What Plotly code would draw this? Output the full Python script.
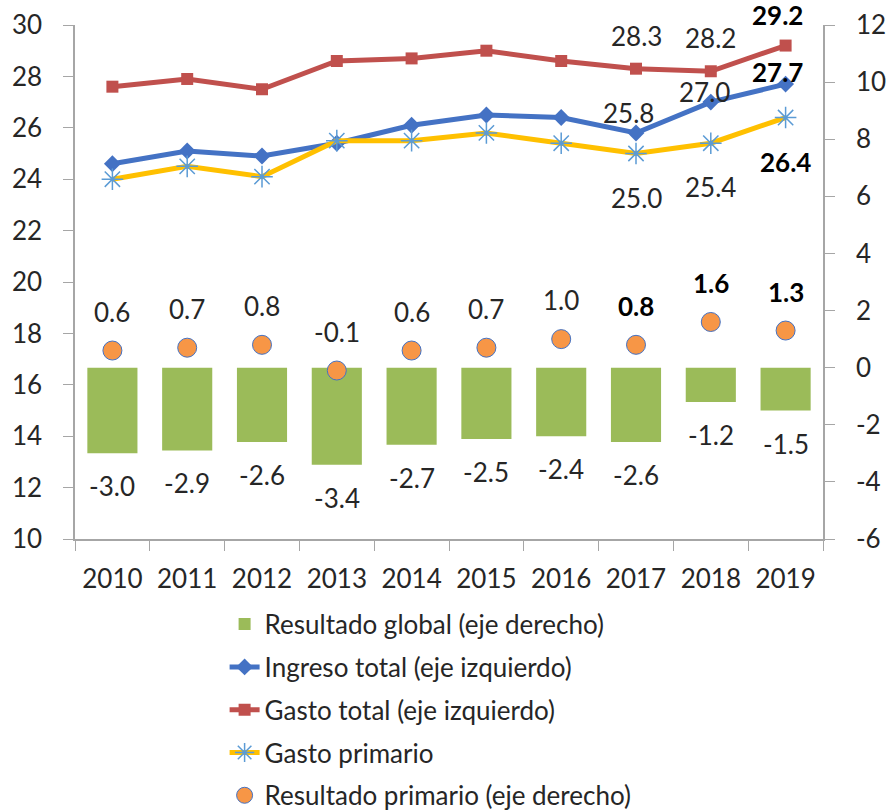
import plotly.graph_objects as go

years = ["2010", "2011", "2012", "2013", "2014", "2015", "2016", "2017", "2018", "2019"]
ingreso_total = [24.6, 25.1, 24.9, 25.4, 26.1, 26.5, 26.4, 25.8, 27.0, 27.7]
gasto_total = [27.6, 27.9, 27.5, 28.6, 28.7, 29.0, 28.6, 28.3, 28.2, 29.2]
gasto_primario = [24.0, 24.5, 24.1, 25.5, 25.5, 25.8, 25.4, 25.0, 25.4, 26.4]
resultado_global = [-3.0, -2.9, -2.6, -3.4, -2.7, -2.5, -2.4, -2.6, -1.2, -1.5]
resultado_primario = [0.6, 0.7, 0.8, -0.1, 0.6, 0.7, 1.0, 0.8, 1.6, 1.3]
right_ticks = [-6, -4, -2, 0, 2, 4, 6, 8, 10, 12]
right_tick_text = ["-6", "-4", "-2", "0", "2", "4", "6", "8", "10", "12"]

FONT = "Lato"
TXT = "#262626"
AX = "#A6A6A6"

fig = go.Figure()
fig.add_trace(go.Bar(x=years, y=resultado_global, yaxis="y2", name="Resultado global (eje derecho)",
                     marker=dict(color="#9BBB59", line=dict(width=0)), width=0.67, legendgroup="a"))
fig.add_trace(go.Scatter(x=years, y=ingreso_total, name="Ingreso total (eje izquierdo)", mode="lines+markers",
                         line=dict(color="#4472C4", width=5), marker=dict(symbol="diamond", size=13, color="#4472C4"),
                         legendgroup="b"))
fig.add_trace(go.Scatter(x=years, y=gasto_total, name="Gasto total (eje izquierdo)", mode="lines+markers",
                         line=dict(color="#C0504D", width=5), marker=dict(symbol="square", size=12, color="#C0504D"),
                         legendgroup="c"))
fig.add_trace(go.Scatter(x=years, y=gasto_primario, name="Gasto primario", mode="lines+markers",
                         line=dict(color="#FFC000", width=5),
                         marker=dict(symbol="asterisk-open", size=18, color="#5B9BD5", line=dict(color="#5B9BD5", width=1.5)),
                         legendgroup="d"))
fig.add_trace(go.Scatter(x=years, y=resultado_primario, yaxis="y2", name="Resultado primario (eje derecho)", mode="markers",
                         marker=dict(symbol="circle", size=19, color="#F79646", line=dict(color="#4472C4", width=1)),
                         legendgroup="e"))

ann = []
def lab(i, y, yref, text, yshift, xshift=0, bold=False):
    # category index i on the x axis
    ann.append(dict(x=i, y=y, xref="x", yref=yref, text=("<b>%s</b>" % text) if bold else text,
                    showarrow=False, yshift=yshift, xshift=xshift, xanchor="center", yanchor="middle",
                    font=dict(family=FONT, size=26, color="#000000" if bold else TXT)))

for i in range(len(years)):
    lab(i, resultado_primario[i], "y2", "%.1f" % resultado_primario[i], 39, bold=(i >= 7))
    lab(i, resultado_global[i], "y2", "%.1f" % resultado_global[i], -33)
for i in (7, 8, 9):
    lab(i, gasto_total[i], "y", "%.1f" % gasto_total[i], 33 if i < 9 else 31, xshift=0 if i < 9 else -8, bold=(i == 9))
    lab(i, gasto_primario[i], "y", "%.1f" % gasto_primario[i], -44, bold=(i == 9))
lab(7, ingreso_total[7], "y", "%.1f" % ingreso_total[7], 20, xshift=-8)
lab(8, ingreso_total[8], "y", "%.1f" % ingreso_total[8], 10, xshift=-6)
lab(9, ingreso_total[9], "y", "%.1f" % ingreso_total[9], 12, xshift=-8, bold=True)

fig.update_layout(
    width=886, height=812,
    margin=dict(l=75, r=63, t=25, b=273, autoexpand=False),
    paper_bgcolor="white", plot_bgcolor="white",
    font=dict(family=FONT, size=26, color=TXT),
    showlegend=True,
    annotations=ann,
    xaxis=dict(type="category", range=[-0.5, 9.5], showline=True, linecolor=AX, linewidth=1.5, ticks="outside",
               tickson="boundaries", ticklen=10, tickcolor=AX, showgrid=False, tickangle=0, automargin=False,
               tickfont=dict(size=26, color=TXT), ticklabelstandoff=16),
    yaxis=dict(range=[10, 30], dtick=2, showline=True, linecolor=AX, linewidth=1.5, ticks="outside", ticklen=10,
               tickcolor=AX, showgrid=False, zeroline=False, automargin=False,
               tickfont=dict(size=26, color=TXT), ticklabelstandoff=16),
    yaxis2=dict(range=[-6, 12], tickmode="array", tickvals=right_ticks, ticktext=right_tick_text,
                overlaying="y", side="right", showline=True, linecolor=AX, linewidth=1.5,
                ticks="outside", ticklen=10, tickcolor=AX, showgrid=False, zeroline=False, automargin=False,
                tickfont=dict(size=26, color=TXT), ticklabelstandoff=16),
    legend=dict(orientation="v", x=0.2, xanchor="left", y=-0.12, yanchor="top", traceorder="grouped",
                tracegroupgap=6, font=dict(family=FONT, size=26, color=TXT), bgcolor="rgba(0,0,0,0)"),
)

fig.write_html("out.html", config={"displayModeBar": False},
               post_script="document.body.style.margin='0';document.body.style.overflow='hidden';")
